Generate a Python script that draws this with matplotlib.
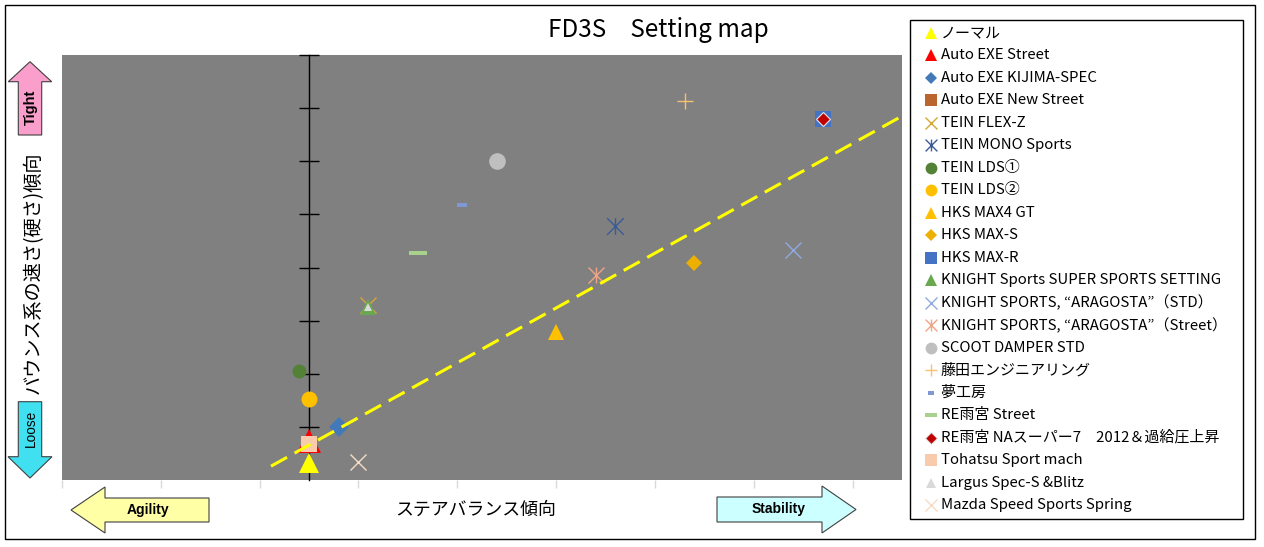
import matplotlib
matplotlib.use("Agg")
import matplotlib.pyplot as plt
from matplotlib.path import Path
from matplotlib.patches import Polygon, Rectangle

plt.rcParams['font.family'] = ['Noto Sans CJK JP', 'DejaVu Sans']

# ---------------- data ----------------
names = [
    "ノーマル", "Auto EXE Street", "Auto EXE KIJIMA-SPEC", "Auto EXE New Street",
    "TEIN FLEX-Z", "TEIN MONO Sports", "TEIN LDS①", "TEIN LDS②",
    "HKS MAX4 GT", "HKS MAX-S", "HKS MAX-R", "KNIGHT Sports SUPER SPORTS SETTING",
    "KNIGHT SPORTS, “ARAGOSTA”（STD）", "KNIGHT SPORTS, “ARAGOSTA”（Street）",
    "SCOOT DAMPER STD", "藤田エンジニアリング", "夢工房", "RE雨宮 Street",
    "RE雨宮 NAスーパー7　2012＆過給圧上昇", "Tohatsu Sport mach",
    "Largus Spec-S &Blitz", "Mazda Speed Sports Spring",
]
x_vals = [0.0, 0.0, 0.6, 0.0, 1.2, 6.2, -0.2, 0.0, 5.0, 7.8, 10.4, 1.2,
          9.8, 5.8, 3.8, 7.6, 3.1, 2.2, 10.4, 0.0, 1.2, 1.0]
y_vals = [0.32, 0.73, 1.0, 0.67, 3.3, 4.78, 2.05, 1.52, 2.78, 4.09, 6.8, 3.26,
          4.33, 3.85, 6.0, 7.14, 5.18, 4.28, 6.8, 0.67, 3.26, 0.33]
trend_x = [-0.77, 12.0]
trend_y = [0.26, 6.85]
x_ticks = [-5, -3, -1, 1, 3, 5, 7, 9, 11]
y_ticks = [1, 2, 3, 4, 5, 6, 7, 8]

# ---------------- styles ----------------
M, L = Path.MOVETO, Path.LINETO
asterisk = Path([(0, -1), (0, 1), (-1, -1), (1, 1), (-1, 1), (1, -1)], [M, L, M, L, M, L])
dash_small = Path([(-1, -0.45), (1, -0.45), (1, 0.45), (-1, 0.45), (-1, -0.45)])
dash_wide = Path([(-1, -0.28), (1, -0.28), (1, 0.28), (-1, 0.28), (-1, -0.28)])

styles = [
    dict(marker='^', c='#FFFF00', s=15, ls=9),
    dict(marker='^', c='#FF0000', s=17, ls=9),
    dict(marker='D', c='#4379B9', s=10, ls=6.5),
    dict(marker='s', c='#B9652D', s=10, ls=8),
    dict(marker='x', c='#D6A632', s=11, ls=8.5, line=True),
    dict(marker=asterisk, c='#3A5A98', s=12, ls=8.5, line=True),
    dict(marker='o', c='#538135', s=10, ls=8.5),
    dict(marker='o', c='#FFC000', s=11.5, ls=8.5),
    dict(marker='^', c='#FFC000', s=11.5, ls=9),
    dict(marker='D', c='#EEB000', s=8.5, ls=6.5),
    dict(marker='s', c='#4472C4', s=12, ls=8),
    dict(marker='^', c='#6AA84F', s=12, ls=9),
    dict(marker='x', c='#8FAADC', s=11.5, ls=8.5, line=True),
    dict(marker=asterisk, c='#F0A584', s=11.5, ls=8.5, line=True),
    dict(marker='o', c='#BFBFBF', s=12, ls=8.5),
    dict(marker='+', c='#F7C26E', s=12, ls=9, line=True),
    dict(marker=dash_small, c='#8097D6', s=6.5, ls=5),
    dict(marker=dash_wide, c='#A9D18E', s=12.3, ls=9),
    dict(marker='D', c='#C00000', s=7.6, ls=6, edge='#E6E6E6'),
    dict(marker='s', c='#F8CBAD', s=12, ls=8),
    dict(marker='^', c='#D9D9D9', s=6, ls=7),
    dict(marker='x', c='#F5DCC5', s=11.5, ls=8.5, line=True),
]


def draw_marker(axis, x, y, st, size, z):
    if st.get('line'):
        axis.plot([x], [y], linestyle='none', marker=st['marker'], ms=size,
                  mfc='none', mec=st['c'], mew=1.0, zorder=z)
    else:
        axis.plot([x], [y], linestyle='none', marker=st['marker'], ms=size,
                  mfc=st['c'], mec=st.get('edge', st['c']),
                  mew=0.8 if 'edge' in st else 0.0, zorder=z)


W, H = 1264, 547
fig = plt.figure(figsize=(W / 100, H / 100), dpi=100)
fig.patch.set_facecolor('white')

# main plot area
ax = fig.add_axes([62 / W, 1 - 480 / H, 840 / W, 425 / H])
ax.set_facecolor('#808080')
ax.set_xlim(-5, 12)
ax.set_ylim(0, 8)
for sp in ['top', 'right', 'bottom']:
    ax.spines[sp].set_visible(False)
ax.spines['left'].set_position(('data', 0))
ax.spines['left'].set_color('black')
ax.spines['left'].set_linewidth(1.0)
ax.set_xticks(x_ticks)
ax.set_yticks(y_ticks)
ax.tick_params(axis='x', direction='out', length=6, width=1, color='#D9D9D9',
               labelbottom=False)
ax.tick_params(axis='y', direction='inout', length=14.4, width=1, color='black',
               labelleft=False)

for i, (xv, yv) in enumerate(zip(x_vals, y_vals)):
    draw_marker(ax, xv, yv, styles[i], styles[i]['s'], 3 + i * 0.01)

ax.plot(trend_x, trend_y, color='#FFFF00', lw=2.2, linestyle=(0, (6, 2.8)),
        zorder=4, solid_capstyle='butt', dash_capstyle='butt')

# overlay in pixel coordinates
ov = fig.add_axes([0, 0, 1, 1])
ov.set_xlim(0, W)
ov.set_ylim(H, 0)
ov.axis('off')
ov.patch.set_alpha(0)

ov.add_patch(Rectangle((5, 5), 1250, 534, fill=False, ec='black', lw=1.0))
ov.add_patch(Rectangle((910, 20), 333, 499, fill=False, ec='black', lw=1.0))

# arrows
arrow_ec = '#404040'
ov.add_patch(Polygon([(18.3, 135), (18.3, 81.7), (8.3, 81.7), (30, 61.7),
                      (51.7, 81.7), (41.7, 81.7), (41.7, 135)],
                     closed=True, fc='#FA9FCB', ec=arrow_ec, lw=0.8))
ov.add_patch(Polygon([(18.3, 401.7), (41.7, 401.7), (41.7, 456.7), (52, 456.7),
                      (30, 478), (8, 456.7), (18.3, 456.7)],
                     closed=True, fc='#40E0F0', ec=arrow_ec, lw=0.8))
ov.add_patch(Polygon([(71, 510), (105, 487), (105, 498), (209, 498), (209, 522),
                      (105, 522), (105, 533)],
                     closed=True, fc='#FFFFA6', ec=arrow_ec, lw=0.8))
ov.add_patch(Polygon([(717, 497), (822, 497), (822, 486), (856, 509.5),
                      (822, 533), (822, 522), (717, 522)],
                     closed=True, fc='#CCFFFF', ec=arrow_ec, lw=0.8))

ov.text(31, 107, "Tight", rotation=90, ha='center', va='center',
        fontsize=10.6, fontweight='bold', family='Liberation Sans')
ov.text(31, 428, "Loose", rotation=90, ha='center', va='center',
        fontsize=9.8, family='Liberation Sans')
ov.text(148, 510, "Agility", ha='center', va='center',
        fontsize=10, fontweight='bold', family='Liberation Sans')
ov.text(779, 509, "Stability", ha='center', va='center',
        fontsize=10, fontweight='bold', family='Liberation Sans')

# title and axis labels
ov.text(658, 30, "FD3S　Setting map", ha='center', va='center', fontsize=17.5)
ov.text(33, 273, "バウンス系の速さ(硬さ)傾向", rotation=90, ha='center',
        va='center', fontsize=13.8)
ov.text(476, 510, "ステアバランス傾向", ha='center', va='center', fontsize=12.9)

# legend
for i, nm in enumerate(names):
    yy = 33 + i * 22.48
    draw_marker(ov, 931, yy, styles[i], styles[i]['ls'], 6)
    ov.text(941, yy, nm, ha='left', va='center', fontsize=10.8)

fig.savefig('out.png', dpi=100)
